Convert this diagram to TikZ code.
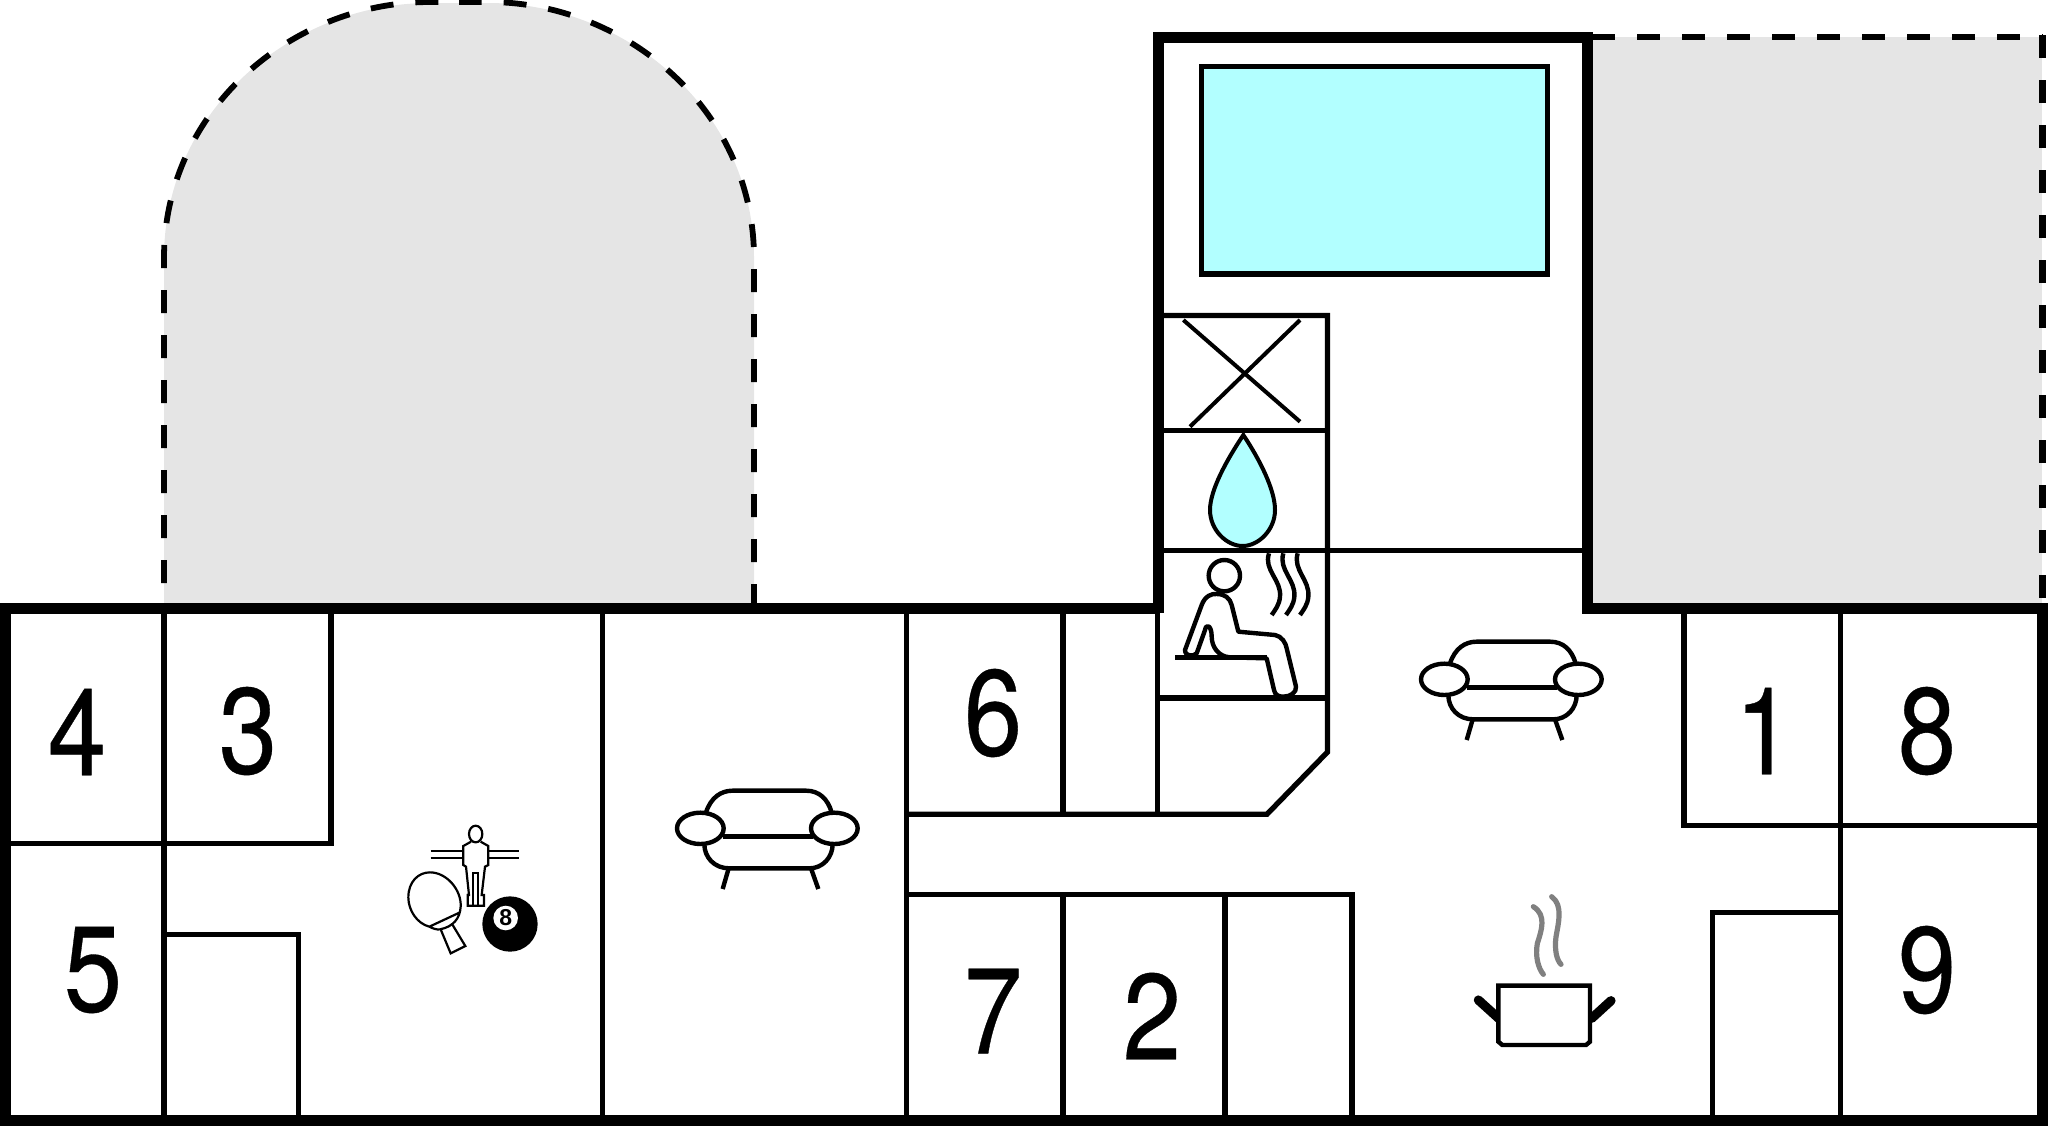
\documentclass[tikz,border=0pt]{standalone}
\usepackage{graphicx}
\usepackage{fontspec}
\setmainfont{Liberation Sans}
\newfontfamily\numfont[FakeBold=0.3]{TeX Gyre Heros}
\definecolor{pool}{HTML}{B2FFFF}
\definecolor{yard}{HTML}{E5E5E5}
\definecolor{steam}{HTML}{808080}
\newcommand{\narrow}[1]{\scalebox{0.86}[1]{#1}}
\tikzset{
  thick wall/.style={line width=5.5pt,line cap=butt,line join=miter},
  thin wall/.style={line width=2.65pt,line cap=butt,line join=miter},
  boundary/.style={line width=2.9pt,dash pattern=on 11.5pt off 11pt},
  boundary wide/.style={line width=3.4pt,dash pattern=on 11.5pt off 11pt},
  icon/.style={line width=2.2pt,line cap=butt,line join=round},
  fine/.style={line width=1.1pt,line join=miter},
  numeral/.style={font=\numfont\fontsize{61pt}{61pt}\selectfont,inner sep=0pt}
}
\newcommand{\sofaicon}[2]{%
  \begin{scope}[shift={(#1,#2)},scale=1/3,icon]
    \draw (150,130) .. controls (165,85) and (195,65) .. (230,65) -- (450,65) .. controls (490,65) and (515,90) .. (527,130);
    \draw (133,178) ellipse [x radius=70,y radius=47];
    \draw (535,178) ellipse [x radius=70,y radius=47];
    \draw (200,203) -- (470,203);
    \draw (145,225) .. controls (145,265) and (175,298) .. (220,298) -- (460,298) .. controls (500,298) and (530,265) .. (530,225);
    \draw (218,298) -- (200,360);
    \draw (465,298) -- (487,360);
  \end{scope}}
\begin{document}
\begin{tikzpicture}[x=0.5pt,y=-0.5pt]
\useasboundingbox (0,0) rectangle (2048,1126);
% yards
\fill[yard] (164,607) -- (164,258) .. controls (164,112) and (290,3) .. (430,3) -- (488,3) .. controls (628,3) and (754,112) .. (754,258) -- (754,607) -- cycle;
\draw[boundary,dash phase=10.5pt] (164,607) -- (164,258) .. controls (164,112) and (290,2) .. (430,2) -- (459,2);
\draw[boundary] (754,607) -- (754,258) .. controls (754,112) and (628,2) .. (488,2) -- (459,2);
\fill[yard] (1588,37) rectangle (2042,607);
\draw[boundary wide] (1592,37) -- (2042.5,37);
\draw[boundary wide] (2042.5,35) -- (2042.5,607);
% pool
\draw[line width=2.8pt,fill=pool] (1201.5,66.5) rectangle (1547.5,274);
% interior walls
\draw[thin wall] (164,607) -- (164,1119);
\draw[thin wall] (5,843.3) -- (331,843.3) -- (331,607);
\draw[thin wall] (164,934.8) -- (298.5,934.8) -- (298.5,1119);
\draw[thin wall] (602.5,607) -- (602.5,1119);
\draw[thin wall] (906.5,607) -- (906.5,1119);
\draw[thin wall] (1063,607) -- (1063,814.2);
\draw[thin wall] (1063,894.7) -- (1063,1119);
\draw[thin wall] (906.5,814.2) -- (1267,814.2) -- (1327.5,752) -- (1327.5,315.5) -- (1158,315.5);
\draw[thin wall] (1158,430.5) -- (1327.5,430.5);
\draw[thin wall] (1158,550.5) -- (1588,550.5);
\draw[thin wall] (1157.5,698) -- (1327.5,698);
\draw[thin wall] (1157.5,607) -- (1157.5,814.2);
\draw[thin wall] (906.5,894.7) -- (1352,894.7) -- (1352,1119);
\draw[thin wall] (1225,894.7) -- (1225,1119);
\draw[thin wall] (1684,607) -- (1684,825.3) -- (2038,825.3);
\draw[thin wall] (1840.5,607) -- (1840.5,1119);
\draw[thin wall] (1712.5,1119) -- (1712.5,912.5) -- (1840.5,912.5);
% outer walls
\draw[thick wall] (1158,613) -- (1158,37.5) -- (1587.5,37.5) -- (1587.5,613);
\draw[thick wall] (1158,608) -- (5.5,608) -- (5.5,1120) -- (2042.5,1120) -- (2042.5,608) -- (1582,608);
% sauna room icons
\begin{scope}[shift={(1150,300)},scale=1/3]
  \draw[line width=2pt] (100,60) -- (450,365);
  \draw[line width=2pt] (450,60) -- (120,380);
  \draw[line width=2pt,fill=pool,line join=miter] (280,405) .. controls (330,480) and (375,570) .. (375,630) .. controls (375,690) and (325,738) .. (278,738) .. controls (230,738) and (180,690) .. (180,630) .. controls (180,570) and (230,480) .. (280,405) -- cycle;
  \draw[icon] (223,827) circle [radius=47];
  \draw[icon] (105,1050) -- (155,915) .. controls (165,888) and (185,880) .. (200,882) .. controls (225,882) and (240,895) .. (245,915) -- (265,995) -- (375,1005) .. controls (395,1008) and (408,1030) .. (410,1045) -- (438,1160) .. controls (440,1178) and (420,1190) .. (400,1190) .. controls (385,1190) and (375,1185) .. (372,1170) -- (350,1075) -- (240,1072) .. controls (205,1070) and (185,1040) .. (185,1010) .. controls (185,975) and (168,970) .. (165,990) -- (140,1060) .. controls (130,1070) and (105,1070) .. (105,1050) -- cycle;
  \draw[icon] (75,1073) -- (350,1073);
  \draw[icon] (357,760) .. controls (340,810) and (395,840) .. (390,890) .. controls (388,915) and (375,930) .. (365,945);
  \draw[icon] (400,760) .. controls (385,810) and (438,840) .. (433,890) .. controls (431,915) and (418,930) .. (408,945);
  \draw[icon] (443,760) .. controls (428,810) and (480,840) .. (475,890) .. controls (473,915) and (460,930) .. (450,945);
\end{scope}
% sofas
\sofaicon{1400}{620}
\sofaicon{656}{769}
% pot
\begin{scope}[shift={(1450,880)},scale=1/3]
  \draw[line width=4.6pt,line cap=round] (85,360) -- (148,417);
  \draw[line width=4.6pt,line cap=round] (483,362) -- (425,415);
  \draw[icon,fill=white,line join=miter] (145,317) -- (420,317) -- (420,485) -- (408,495) -- (157,495) -- (145,485) -- cycle;
  \draw[steam,line width=2.6pt,line cap=round] (250,80) .. controls (290,105) and (275,150) .. (262,190) .. controls (255,230) and (265,265) .. (280,283);
  \draw[steam,line width=2.6pt,line cap=round] (305,50) .. controls (340,75) and (325,130) .. (318,170) .. controls (313,210) and (320,240) .. (333,253);
\end{scope}
% games
\begin{scope}[shift={(390,810)},scale=1/3]
  \draw[fine] (122,122) -- (218,122) (122,144) -- (218,144) (298,122) -- (388,122) (298,144) -- (388,144);
  \draw[fine] (257,72) ellipse [x radius=20,y radius=25];
  \draw[fine] (243,95) -- (220,108) -- (220,165) -- (228,170) -- (237,255) -- (233,255) -- (233,287) -- (282,287) -- (282,255) -- (275,255) -- (285,170) -- (295,165) -- (295,108) -- (272,95);
  \draw[fine] (250,285) -- (250,190) -- (265,190) -- (265,285);
  \draw[fine] (118,350) .. controls (80,340) and (55,300) .. (55,262) .. controls (55,215) and (85,187) .. (120,187) .. controls (170,187) and (215,240) .. (212,290) .. controls (210,325) and (190,350) .. (150,358) .. controls (140,360) and (128,355) .. (118,350) -- (208,308);
  \draw[fine] (152,358) -- (182,430) -- (226,408) -- (185,340);
  \fill[black] (360,342) circle [radius=83];
  \node[fill=white,circle,minimum size=12.3pt,inner sep=0pt,font=\fontsize{11.5pt}{11.5pt}\selectfont\bfseries] (eightball) at (347,324) {8};
\end{scope}
% numbers
\node[numeral] (n4) at (77,732) {\narrow{4}};
\node[numeral] (n3) at (248,731) {\narrow{3}};
\node[numeral] (n5) at (93,970) {\narrow{5}};
\node[numeral] (n6) at (993,713) {\narrow{6}};
\node[numeral] (n7) at (993,1011) {\narrow{7}};
\node[numeral] (n2) at (1152,1016) {\narrow{2}};
\node[numeral] (n1) at (1764,731) {\narrow{1}};
\node[numeral] (n8) at (1927,731) {\narrow{8}};
\node[numeral] (n9) at (1927,970) {\narrow{9}};
\end{tikzpicture}
\end{document}
